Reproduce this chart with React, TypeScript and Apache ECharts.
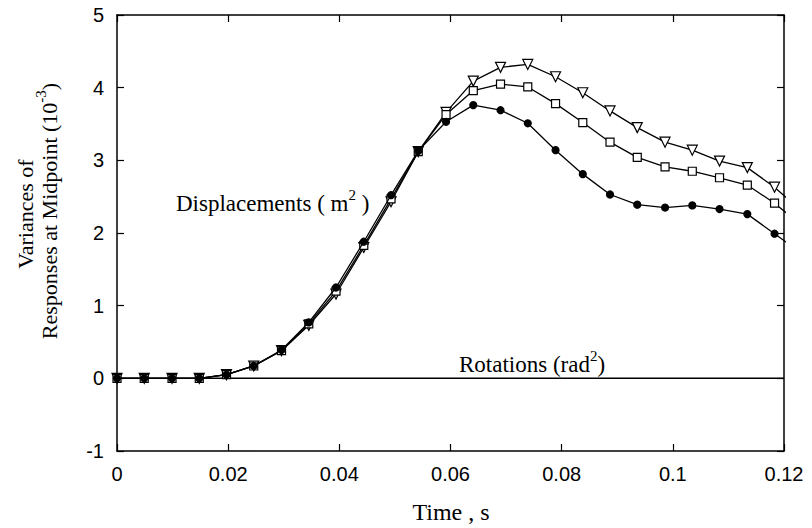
import React, { useEffect, useRef } from "react";
import * as echarts from "echarts";

const times = [0, 0.0049, 0.0099, 0.0148, 0.0197, 0.0246, 0.0296, 0.0345, 0.0394, 0.0444, 0.0493, 0.0542, 0.0592, 0.0641, 0.069, 0.0739, 0.0789, 0.0838, 0.0887, 0.0936, 0.0986, 0.1035, 0.1084, 0.1134, 0.1183, 0.1232];
const circleVals = [0, 0, 0, 0, 0.05, 0.17, 0.39, 0.77, 1.25, 1.88, 2.52, 3.13, 3.53, 3.76, 3.69, 3.51, 3.14, 2.81, 2.53, 2.39, 2.35, 2.38, 2.33, 2.26, 1.99, 1.72];
const squareVals = [0, 0, 0, 0, 0.05, 0.17, 0.38, 0.75, 1.2, 1.83, 2.47, 3.12, 3.63, 3.96, 4.05, 4.01, 3.78, 3.52, 3.25, 3.04, 2.91, 2.85, 2.76, 2.66, 2.41, 2.1];
const triangleVals = [0, 0, 0, 0, 0.05, 0.17, 0.38, 0.73, 1.16, 1.8, 2.43, 3.12, 3.66, 4.09, 4.28, 4.32, 4.15, 3.93, 3.68, 3.45, 3.25, 3.14, 2.99, 2.9, 2.63, 2.3];
const rotationTimes = [0, 0.12];
const rotationVals = [0, 0];
const xTicks = { min: 0, max: 0.12, interval: 0.02 };
const yTicks = { min: -1, max: 5, interval: 1 };

const pair = (xs: number[], ys: number[]) => xs.map((x, i) => [x, ys[i]]);

export default function App() {
  const ref = useRef<HTMLDivElement>(null);
  useEffect(() => {
    if (!ref.current) return;
    const chart = echarts.init(ref.current, null, { renderer: "svg" });
    const serif = "'Liberation Serif', 'Times New Roman', serif";
    const sans = "'Liberation Sans', Arial, Helvetica, sans-serif";
    const axisCommon = {
      axisLine: { show: true, onZero: false, lineStyle: { color: "#000", width: 1.5 } },
      axisTick: { show: true, inside: true, length: 7, lineStyle: { color: "#000", width: 1.2 } },
      splitLine: { show: false },
    };
    const line = (name: string, data: number[][], symbol: string, size: number, fill: string, rotate = 0, z = 2) => ({
      name,
      type: "line",
      data,
      symbol,
      symbolSize: size,
      symbolRotate: rotate,
      showSymbol: true,
      clip: true,
      z,
      lineStyle: { color: "#000", width: 1.3 },
      itemStyle: { color: fill, borderColor: "#000", borderWidth: 1.2 },
    });
    chart.setOption({
      animation: false,
      backgroundColor: "#fff",
      grid: { left: 117, right: 28, top: 15, bottom: 77 },
      xAxis: [
        {
          type: "value",
          position: "bottom",
          ...xTicks,
          ...axisCommon,
          axisLabel: { color: "#000", fontSize: 20, fontFamily: sans, margin: 13 },
        },
        {
          type: "value",
          position: "top",
          ...xTicks,
          ...axisCommon,
          axisLabel: { show: false },
        },
      ],
      yAxis: [
        {
          type: "value",
          position: "left",
          ...yTicks,
          ...axisCommon,
          axisLabel: { color: "#000", fontSize: 20, fontFamily: sans, margin: 13 },
        },
        {
          type: "value",
          position: "right",
          ...yTicks,
          ...axisCommon,
          axisLabel: { show: false },
        },
      ],
      series: [
        {
          name: "Rotations",
          type: "line",
          data: pair(rotationTimes, rotationVals),
          symbol: "none",
          z: 1,
          lineStyle: { color: "#000", width: 1.5 },
        },
        line("Triangle", pair(times, triangleVals), "triangle", 10, "#fff", 180, 2),
        line("Square", pair(times, squareVals), "rect", 8, "#fff", 0, 3),
        line("Circle", pair(times, circleVals), "circle", 7, "#000", 0, 4),
      ],
      graphic: [
        {
          type: "text",
          x: 176,
          y: 203,
          style: {
            text: "Displacements ( m{sup|2} )",
            font: `23px ${serif}`,
            fill: "#000",
            verticalAlign: "middle",
            align: "left",
            rich: {
              sup: { fontSize: 15, fontFamily: serif, verticalAlign: "top", lineHeight: 32, fill: "#000" },
            },
          },
        },
        {
          type: "text",
          x: 459,
          y: 364,
          style: {
            text: "Rotations (rad{sup|2})",
            font: `23px ${serif}`,
            fill: "#000",
            verticalAlign: "middle",
            align: "left",
            rich: {
              sup: { fontSize: 15, fontFamily: serif, verticalAlign: "top", lineHeight: 31, fill: "#000" },
            },
          },
        },
        {
          type: "text",
          x: 451,
          y: 512,
          style: {
            text: "Time , s",
            font: `24px ${serif}`,
            fill: "#000",
            verticalAlign: "middle",
            align: "center",
          },
        },
        {
          type: "text",
          x: 25,
          y: 214,
          rotation: Math.PI / 2,
          style: {
            text: "Variances of",
            font: `22px ${serif}`,
            fill: "#000",
            verticalAlign: "middle",
            align: "center",
          },
        },
        {
          type: "text",
          x: 49,
          y: 211,
          rotation: Math.PI / 2,
          style: {
            text: "Responses at Midpoint (10{sup|-3})",
            font: `22px ${serif}`,
            fill: "#000",
            verticalAlign: "middle",
            align: "center",
            rich: {
              sup: { fontSize: 15, fontFamily: serif, verticalAlign: "top", lineHeight: 31, fill: "#000" },
            },
          },
        },
      ],
    });
    return () => chart.dispose();
  }, []);
  return (
    <div
      ref={ref}
      style={{ position: "absolute", left: 0, top: 0, width: 812, height: 528 }}
    />
  );
}
